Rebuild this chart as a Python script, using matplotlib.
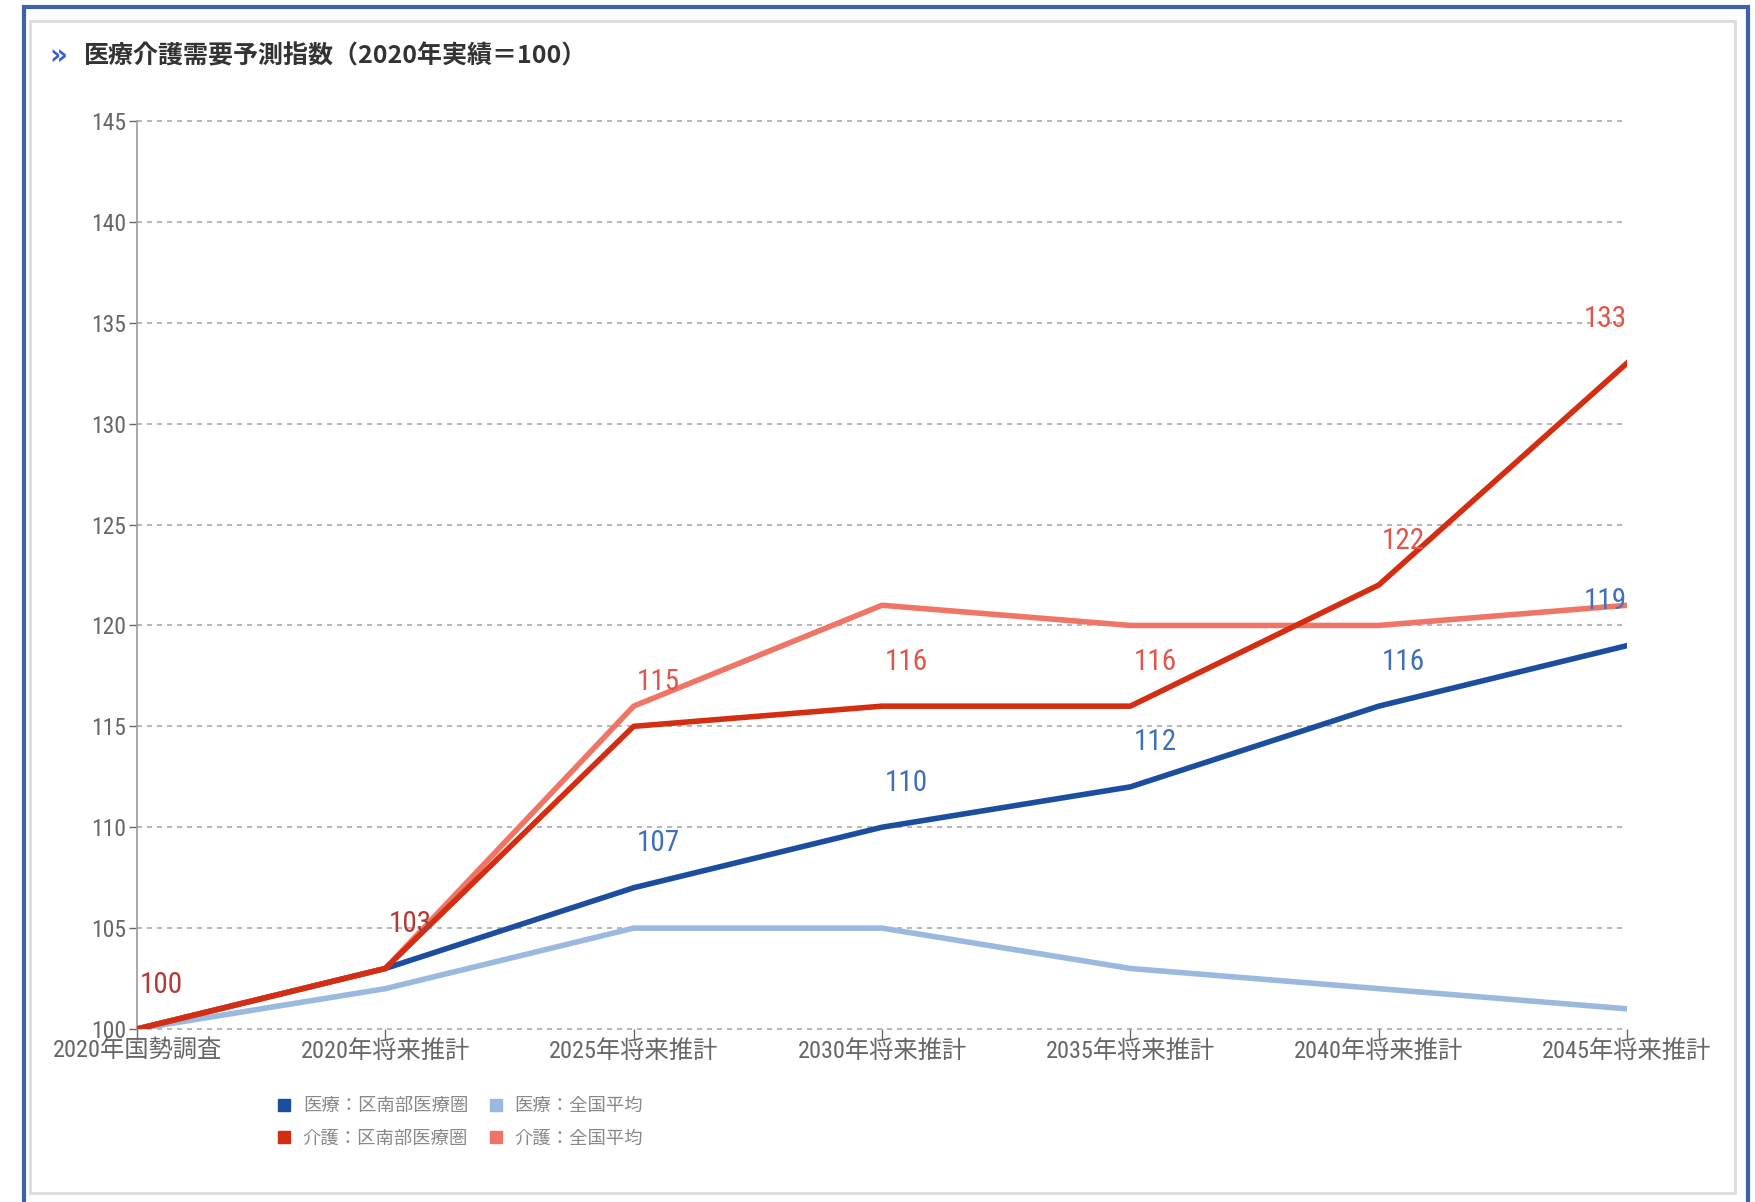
import matplotlib
matplotlib.use("Agg")
import matplotlib.pyplot as plt
from matplotlib.patches import Rectangle
from matplotlib.lines import Line2D

plt.rcParams['font.family'] = ['Noto Sans CJK JP', 'DejaVu Sans']

categories = ["2020年国勢調査", "2020年将来推計", "2025年将来推計", "2030年将来推計",
              "2035年将来推計", "2040年将来推計", "2045年将来推計"]
iryo_kunanbu = [100, 103, 107, 110, 112, 116, 119]
iryo_zenkoku = [100, 102, 105, 105, 103, 102, 101]
kaigo_kunanbu = [100, 103, 115, 116, 116, 122, 133]
kaigo_zenkoku = [100, 103, 116, 121, 120, 120, 121]
series_names = ["医療：区南部医療圏", "医療：全国平均", "介護：区南部医療圏", "介護：全国平均"]
yticks = [100, 105, 110, 115, 120, 125, 130, 135, 140, 145]
title = "医療介護需要予測指数（2020年実績＝100）"

c_dblue = "#1c4ea0"
c_lblue = "#9bb8de"
c_dred = "#d42e12"
c_salmon = "#ef7666"

COND = ["Roboto Condensed", "Liberation Sans Narrow", "Noto Sans CJK JP", "DejaVu Sans"]

W, H = 1756, 1202
fig = plt.figure(figsize=(W / 100, H / 100), dpi=100)

# frames
fig.patches.append(Rectangle((24 / W, -0.01), (1748 - 24) / W, 1 - 7 / H + 0.01,
                             transform=fig.transFigure, fill=False,
                             edgecolor="#3d62a8", linewidth=3))
fig.patches.append(Rectangle((30 / W, 1 - 1193 / H), (1735 - 30) / W, (1193 - 21) / H,
                             transform=fig.transFigure, fill=False,
                             edgecolor="#dcdcdc", linewidth=2))

fig.text(49 / W, 1 - 56 / H, "»", color="#3a5fd0", fontsize=20, fontweight="bold",
         va="center", ha="left", family="DejaVu Sans")
fig.text(84 / W, 1 - 56 / H, title, color="#333333", fontsize=18, fontweight="bold",
         va="center", ha="left")

ax = fig.add_axes([137 / W, 1 - 1029 / H, (1627 - 137) / W, (1029 - 121) / H])
x = list(range(len(categories)))

ax.plot(x, iryo_zenkoku, color=c_lblue, lw=4, zorder=3)
ax.plot(x, iryo_kunanbu, color=c_dblue, lw=4, zorder=4)
ax.plot(x, kaigo_zenkoku, color=c_salmon, lw=4, zorder=5)
ax.plot(x, kaigo_kunanbu, color=c_dred, lw=4, zorder=6)

ax.set_xlim(0, 6)
ax.set_ylim(100, 145)
ax.set_yticks(yticks)
ax.set_yticklabels([str(v) for v in yticks], family=COND, fontsize=17)
ax.set_xticks(x)
ax.set_xticklabels(categories, family=COND, fontsize=17.5)
ax.tick_params(axis="y", colors="#666666", length=6, width=1, pad=2)
ax.tick_params(axis="x", colors="#666666", length=8, width=1, pad=0)
for lab in ax.get_yticklabels() + ax.get_xticklabels():
    lab.set_color("#666666")

for v in yticks:
    ax.axhline(v, color="#aaaaaa", lw=1.2, ls=(0, (3, 3)), zorder=1, clip_on=False)

for s in ["top", "right", "bottom"]:
    ax.spines[s].set_visible(False)
ax.spines["left"].set_color("#999999")
ax.spines["left"].set_linewidth(1.2)

# data labels
lab_font = dict(fontsize=21, family=COND, va="center", zorder=10)
for i, (vb, vr) in enumerate(zip(iryo_kunanbu, kaigo_kunanbu)):
    ha = "right" if i == len(x) - 1 else "left"
    dx = 0.0 if i == len(x) - 1 else 0.012
    if vb == vr:
        ax.text(i + dx, vr + 2.2, str(vr), color="#b23a3a", ha=ha, **lab_font)
    else:
        ax.text(i + dx, vb + 2.2, str(vb), color="#3f70bd", ha=ha, **lab_font)
        ax.text(i + dx, vr + 2.2, str(vr), color="#e0574a", ha=ha, **lab_font)

# legend
colors = [c_dblue, c_lblue, c_dred, c_salmon]
handles = [Line2D([], [], marker="s", ls="none", markersize=9, color=c) for c in colors]
leg = fig.legend([handles[0], handles[2], handles[1], handles[3]],
                 [series_names[0], series_names[2], series_names[1], series_names[3]],
                 ncol=2, loc="upper left", bbox_to_anchor=(268 / W, 1 - 1088 / H),
                 frameon=False, fontsize=13.2, handlelength=0.8, handletextpad=0.6,
                 columnspacing=1.1, labelspacing=0.8, borderpad=0)
for t in leg.get_texts():
    t.set_color("#888888")

fig.savefig("out.png", dpi=100)
